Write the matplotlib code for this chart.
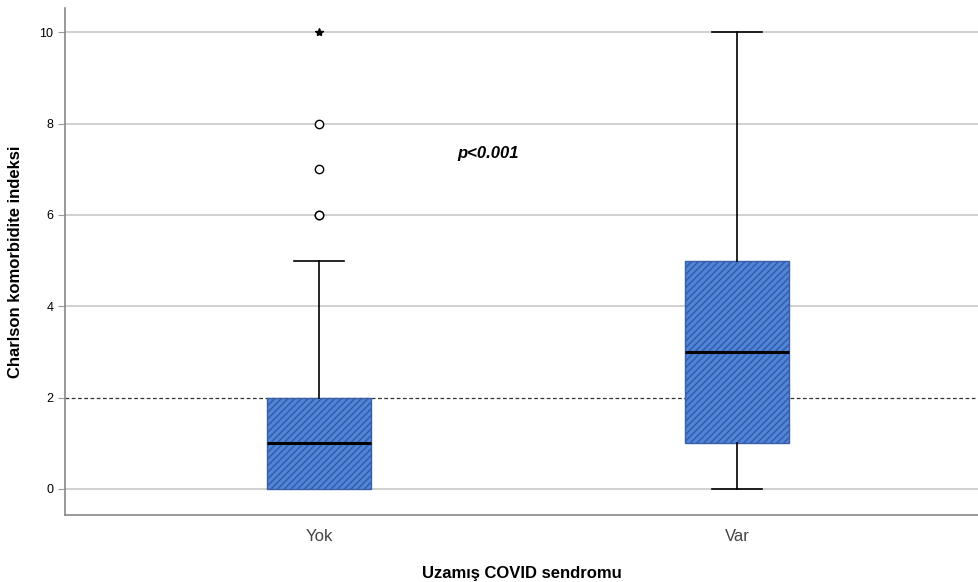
import matplotlib
matplotlib.use("Agg")
import matplotlib.pyplot as plt

plt.rcParams['font.family'] = ['Liberation Sans', 'DejaVu Sans']
plt.rcParams['hatch.color'] = '#1a3570'
plt.rcParams['hatch.linewidth'] = 1.2

groups = ["Yok", "Var"]
q1 = [0, 1]
medians = [1, 3]
q3 = [2, 5]
whislo = [0, 0]
whishi = [5, 10]
outliers = [[6, 6, 7, 8], []]
extremes = [[10], []]

stats = []
for i, g in enumerate(groups):
    stats.append(dict(label=g, q1=q1[i], med=medians[i], q3=q3[i],
                      whislo=whislo[i], whishi=whishi[i], fliers=outliers[i]))

fig = plt.figure(figsize=(9.79, 5.82), dpi=100)
ax = fig.add_axes([0.0664, 0.1151, 0.9336, 0.8712])

for y in [0, 4, 6, 8, 10]:
    ax.axhline(y, color='#c8c8c8', lw=1.2, zorder=0)
ax.axhline(2, color='#333333', lw=0.9, ls=(0, (3, 2)), zorder=0.5)

bp = ax.bxp(stats, positions=[1, 2], widths=0.25, patch_artist=True,
            showfliers=True,
            boxprops=dict(facecolor='#4d86dc', edgecolor='#3a5ea6', linewidth=1, hatch='/////'),
            medianprops=dict(color='black', linewidth=2.2),
            whiskerprops=dict(color='black', linewidth=1.2),
            capprops=dict(color='black', linewidth=1.2),
            capwidths=0.12,
            flierprops=dict(marker='o', markersize=6, markerfacecolor='white',
                            markeredgecolor='black', markeredgewidth=1))
for b in bp['boxes']:
    b.set_zorder(2)

# no lower whisker drawn when it coincides with the box edge
for i in range(len(groups)):
    if whislo[i] == q1[i]:
        bp['caps'][2 * i].set_visible(False)
        bp['whiskers'][2 * i].set_visible(False)

for i, ext in enumerate(extremes):
    if ext:
        ax.plot([i + 1] * len(ext), ext, ls='none', marker='*', markersize=6,
                color='black')

ax.text(1.33, 7.25, "p<0.001", fontsize=12, fontweight='bold', style='italic')

ax.set_xlim(0.392, 2.579)
ax.set_ylim(-0.57, 10.53)
ax.set_yticks([0, 2, 4, 6, 8, 10])
ax.tick_params(axis='y', labelsize=9, length=5, color='#999999')
ax.tick_params(axis='x', labelsize=12, length=0, pad=10, labelcolor='#444444')
ax.set_ylabel("Charlson komorbidite indeksi", fontsize=12, fontweight='bold', labelpad=12)
ax.set_xlabel("Uzamış COVID sendromu", fontsize=12, fontweight='bold', labelpad=16)

for s in ['top', 'right']:
    ax.spines[s].set_visible(False)
for s in ['left', 'bottom']:
    ax.spines[s].set_color('#888888')
    ax.spines[s].set_linewidth(1.2)

fig.savefig("out.png", dpi=100)
